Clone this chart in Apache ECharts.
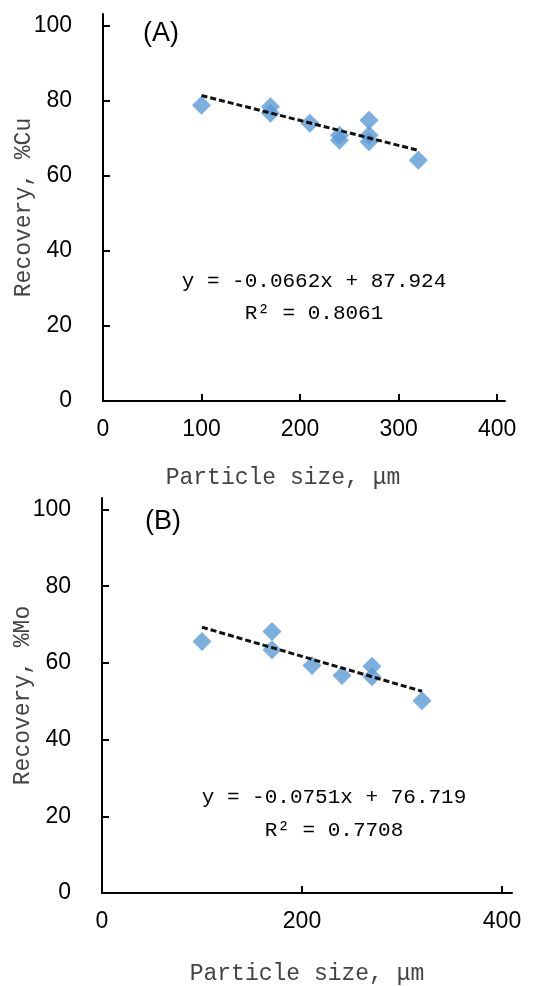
<!DOCTYPE html>
<html>
<head>
<meta charset="utf-8">
<script src="https://cdn.jsdelivr.net/npm/echarts@6/dist/echarts.min.js"></script>
<style>
  html, body { margin: 0; padding: 0; background: #fff; }
  #chart { width: 555px; height: 986px; }
</style>
</head>
<body>
<div id="chart"></div>
<script>
// (A) copper recovery vs particle size
const cuSize = [100, 170, 170, 210, 240, 240, 270, 270, 270, 320];
const cuRecovery = [78.7, 78.3, 76.6, 73.9, 70.7, 69.4, 74.7, 70.7, 69.0, 64.1];
const cuTrendX = [100, 320];
const cuTrendY = [81.3, 66.7];
const cuXTicks = [0, 100, 200, 300, 400];

// (B) molybdenum recovery vs particle size
const moSize = [100, 170, 170, 210, 240, 270, 270, 320];
const moRecovery = [65.6, 68.2, 63.4, 59.3, 56.7, 59.1, 56.4, 50.1];
const moTrendX = [100, 320];
const moTrendY = [69.3, 52.6];
const moXTicks = [0, 200, 400];

const yTicks = [0, 20, 40, 60, 80, 100];

const pairs = (xs, ys) => xs.map((x, i) => [x, ys[i]]);

const monoFont = '"Liberation Mono", "DejaVu Sans Mono", monospace';
const numFont = '"Liberation Sans", Arial, sans-serif';

function xAxisOf(gridIndex, max, ticks, gap, padRight) {
    return {
        type: 'value', gridIndex: gridIndex, min: 0, max: max,
        splitLine: { show: false },
        axisLine: { lineStyle: { color: '#000', width: 2 } },
        axisTick: { inside: true, length: 7, customValues: ticks, lineStyle: { color: '#000', width: 2 } },
        axisLabel: { customValues: ticks, margin: 17, color: '#000', fontSize: 23, fontFamily: numFont },
        name: 'Particle size, \u03bcm', nameLocation: 'middle', nameGap: gap, nameMoveOverlap: false,
        nameTextStyle: { color: '#444', fontSize: 23, fontFamily: monoFont, padding: [0, padRight, 0, 0] }
    };
}

function yAxisOf(gridIndex, label) {
    return {
        type: 'value', gridIndex: gridIndex, min: 0, max: 103,
        splitLine: { show: false },
        axisLine: { lineStyle: { color: '#000', width: 2 } },
        axisTick: { inside: true, length: 7, customValues: yTicks, lineStyle: { color: '#000', width: 2 } },
        axisLabel: { customValues: yTicks, margin: 31, color: '#000', fontSize: 23, fontFamily: numFont },
        name: label, nameLocation: 'middle', nameGap: 68, nameMoveOverlap: false,
        nameTextStyle: { color: '#444', fontSize: 23, fontFamily: monoFont }
    };
}

const scatterStyle = { color: '#5B9BD5' };
const trendStyle = { color: '#111', width: 3, type: [6, 3] };

const option = {
    animation: false,
    backgroundColor: '#fff',
    grid: [
        { left: 103, top: 14, width: 402, height: 387, outerBoundsMode: 'none', containLabel: false },
        { left: 102, top: 498, width: 410, height: 395, outerBoundsMode: 'none', containLabel: false }
    ],
    xAxis: [xAxisOf(0, 408, cuXTicks, 65, 42), xAxisOf(1, 410, moXTicks, 69, 0)],
    yAxis: [yAxisOf(0, 'Recovery, %Cu'), yAxisOf(1, 'Recovery, %Mo')],
    series: [
        {
            type: 'scatter', xAxisIndex: 0, yAxisIndex: 0, symbol: 'diamond', symbolSize: 19,
            itemStyle: scatterStyle, data: pairs(cuSize, cuRecovery), z: 2
        },
        {
            type: 'line', xAxisIndex: 0, yAxisIndex: 0, symbol: 'none',
            lineStyle: trendStyle, data: pairs(cuTrendX, cuTrendY), z: 3
        },
        {
            type: 'scatter', xAxisIndex: 1, yAxisIndex: 1, symbol: 'diamond', symbolSize: 19,
            itemStyle: scatterStyle, data: pairs(moSize, moRecovery), z: 2
        },
        {
            type: 'line', xAxisIndex: 1, yAxisIndex: 1, symbol: 'none',
            lineStyle: trendStyle, data: pairs(moTrendX, moTrendY), z: 3
        }
    ],
    graphic: [
        { type: 'text', left: 143, top: 20, style: { text: '(A)', font: '27px ' + numFont, fill: '#000' } },
        { type: 'text', left: 145, top: 508, style: { text: '(B)', font: '27px ' + numFont, fill: '#000' } },
        { type: 'text', x: 314, y: 281, style: { text: 'y = -0.0662x + 87.924', font: '21px ' + monoFont, fill: '#000', align: 'center', verticalAlign: 'middle' } },
        { type: 'text', x: 314, y: 313, style: { text: 'R\u00b2 = 0.8061', font: '21px ' + monoFont, fill: '#000', align: 'center', verticalAlign: 'middle' } },
        { type: 'text', x: 334, y: 797, style: { text: 'y = -0.0751x + 76.719', font: '21px ' + monoFont, fill: '#000', align: 'center', verticalAlign: 'middle' } },
        { type: 'text', x: 334, y: 830, style: { text: 'R\u00b2 = 0.7708', font: '21px ' + monoFont, fill: '#000', align: 'center', verticalAlign: 'middle' } }
    ]
};

const myChart = echarts.init(document.getElementById('chart'));
myChart.setOption(option);
</script>
</body>
</html>
